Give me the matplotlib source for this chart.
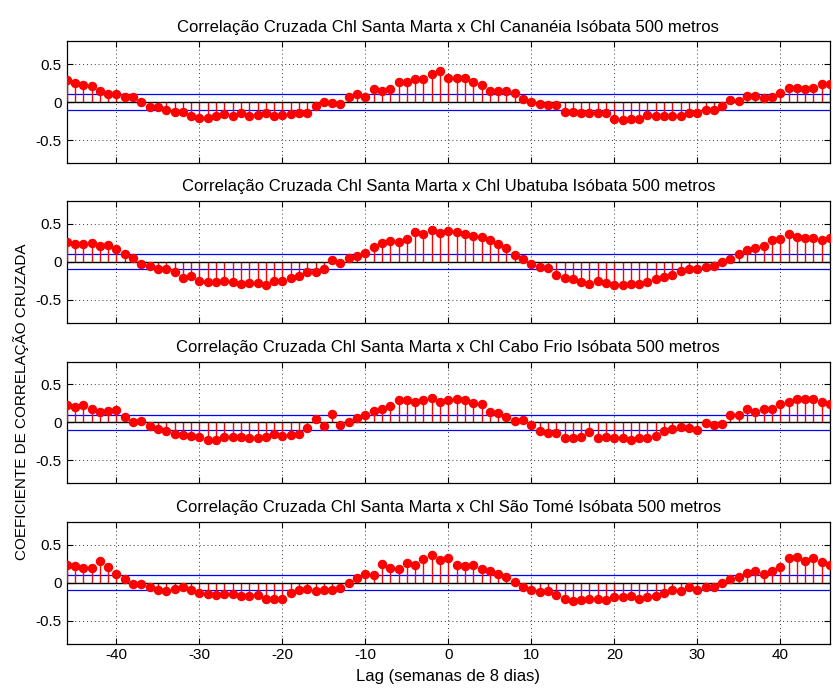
import numpy as np
import matplotlib
matplotlib.use("Agg")
import matplotlib.pyplot as plt

plt.rcParams['font.family'] = ['Liberation Sans', 'DejaVu Sans']
plt.rcParams['axes.unicode_minus'] = False

lags = list(range(-46, 47))

titles = [
    "Correlação Cruzada Chl Santa Marta x Chl Cananéia Isóbata 500 metros",
    "Correlação Cruzada Chl Santa Marta x Chl Ubatuba Isóbata 500 metros",
    "Correlação Cruzada Chl Santa Marta x Chl Cabo Frio Isóbata 500 metros",
    "Correlação Cruzada Chl Santa Marta x Chl São Tomé Isóbata 500 metros",
]

cananeia = [0.29, 0.25, 0.22, 0.21, 0.14, 0.11, 0.10, 0.06, 0.06, 0.00,
            -0.06, -0.07, -0.10, -0.13, -0.13, -0.19, -0.21, -0.21, -0.18, -0.16,
            -0.19, -0.15, -0.18, -0.17, -0.15, -0.18, -0.17, -0.16, -0.15, -0.14,
            -0.05, 0.00, -0.01, -0.02, 0.06, 0.11, 0.06, 0.17, 0.14, 0.17,
            0.26, 0.26, 0.30, 0.30, 0.37, 0.41,
            0.32,
            0.32, 0.32, 0.26, 0.23, 0.15, 0.14, 0.15, 0.12, 0.04, 0.00,
            -0.03, -0.04, -0.04, -0.13, -0.13, -0.15, -0.14, -0.15, -0.15, -0.22,
            -0.24, -0.22, -0.22, -0.17, -0.19, -0.19, -0.18, -0.18, -0.14, -0.15,
            -0.11, -0.10, -0.05, 0.03, 0.02, 0.08, 0.08, 0.05, 0.06, 0.12,
            0.18, 0.18, 0.17, 0.18, 0.24, 0.24]

ubatuba = [0.26, 0.23, 0.24, 0.25, 0.21, 0.22, 0.17, 0.10, 0.05, -0.03,
           -0.05, -0.09, -0.10, -0.14, -0.21, -0.19, -0.25, -0.27, -0.27, -0.26,
           -0.27, -0.29, -0.28, -0.28, -0.31, -0.26, -0.25, -0.22, -0.19, -0.13,
           -0.13, -0.09, 0.02, -0.02, 0.05, 0.08, 0.12, 0.19, 0.25, 0.27,
           0.26, 0.30, 0.39, 0.36, 0.42, 0.38,
           0.41,
           0.39, 0.37, 0.34, 0.33, 0.28, 0.23, 0.18, 0.09, 0.04, -0.03,
           -0.07, -0.08, -0.18, -0.22, -0.23, -0.27, -0.29, -0.25, -0.28, -0.31,
           -0.31, -0.29, -0.29, -0.27, -0.23, -0.20, -0.17, -0.12, -0.09, -0.09,
           -0.07, -0.06, 0.00, 0.04, 0.10, 0.15, 0.18, 0.21, 0.28, 0.30,
           0.36, 0.33, 0.31, 0.31, 0.29, 0.31]

cabo_frio = [0.23, 0.20, 0.23, 0.18, 0.14, 0.15, 0.16, 0.07, 0.00, 0.02,
             -0.05, -0.09, -0.12, -0.16, -0.17, -0.18, -0.19, -0.23, -0.23, -0.19,
             -0.19, -0.19, -0.21, -0.21, -0.20, -0.15, -0.18, -0.17, -0.15, -0.07,
             0.04, -0.05, 0.11, -0.04, 0.00, 0.06, 0.10, 0.15, 0.18, 0.21,
             0.29, 0.29, 0.27, 0.29, 0.32, 0.27,
             0.29,
             0.31, 0.29, 0.26, 0.24, 0.14, 0.12, 0.07, 0.02, 0.03, -0.04,
             -0.11, -0.14, -0.14, -0.21, -0.21, -0.19, -0.13, -0.21, -0.20, -0.21,
             -0.21, -0.23, -0.21, -0.21, -0.18, -0.11, -0.09, -0.06, -0.08, -0.10,
             -0.01, -0.03, -0.02, 0.09, 0.10, 0.17, 0.14, 0.17, 0.17, 0.24,
             0.27, 0.30, 0.30, 0.30, 0.27, 0.24]

sao_tome = [0.23, 0.22, 0.20, 0.20, 0.29, 0.21, 0.11, 0.05, -0.01, -0.02,
            -0.06, -0.09, -0.11, -0.08, -0.05, -0.09, -0.14, -0.15, -0.16, -0.15,
            -0.15, -0.17, -0.17, -0.16, -0.21, -0.22, -0.21, -0.14, -0.09, -0.08,
            -0.11, -0.10, -0.09, -0.07, 0.00, 0.06, 0.12, 0.10, 0.25, 0.20,
            0.18, 0.26, 0.24, 0.31, 0.36, 0.30,
            0.32,
            0.24, 0.22, 0.23, 0.18, 0.15, 0.12, 0.07, 0.01, -0.05, -0.10,
            -0.12, -0.11, -0.16, -0.21, -0.24, -0.23, -0.21, -0.22, -0.23, -0.19,
            -0.19, -0.17, -0.21, -0.19, -0.17, -0.14, -0.09, -0.11, -0.05, -0.10,
            -0.05, -0.05, 0.00, 0.05, 0.07, 0.13, 0.15, 0.12, 0.15, 0.21,
            0.32, 0.34, 0.29, 0.33, 0.27, 0.23]

series = [cananeia, ubatuba, cabo_frio, sao_tome]
conf_limit = 0.1
xticks = [-40, -30, -20, -10, 0, 10, 20, 30, 40]
yticks = [-0.5, 0, 0.5]

W, H = 833, 688
fig = plt.figure(figsize=(W / 100, H / 100), dpi=100)

left_px, right_px = 66.7, 830
tops = [41.3, 201.0, 361.5, 522.0]
height_px = 121.5

for i, (vals, title) in enumerate(zip(series, titles)):
    ax = fig.add_axes([left_px / W, 1 - (tops[i] + height_px) / H,
                       (right_px - left_px) / W, height_px / H])
    ax.set_xlim(-46, 46)
    ax.set_ylim(-0.8, 0.8)
    ax.set_xticks(xticks)
    ax.set_yticks(yticks)
    ax.set_yticklabels(['-0.5', '0', '0.5'])
    ax.grid(True, linestyle=(0, (1, 3)), color='black', linewidth=0.7, alpha=0.8)
    ax.set_axisbelow(True)
    ax.axhline(conf_limit, color='blue', linewidth=0.9, zorder=2)
    ax.axhline(-conf_limit, color='blue', linewidth=0.9, zorder=2)
    ml, sl, bl = ax.stem(lags, vals, linefmt='r-', markerfmt='ro', basefmt='k-')
    plt.setp(sl, linewidth=1.0, zorder=3)
    plt.setp(ml, markersize=5.8, zorder=4, markeredgecolor='red', markerfacecolor='red')
    plt.setp(bl, linewidth=1.0, color='black', zorder=3)
    ax.tick_params(direction='in', top=True, right=True, labelsize=11, length=4)
    if i < 3:
        ax.set_xticklabels([])
    for s in ax.spines.values():
        s.set_linewidth(0.9)
    ax.set_title(title, fontsize=12, pad=7)

fig.text(21 / W, 1 - 402 / H, "COEFICIENTE DE CORRELAÇÃO CRUZADA", rotation=90,
         ha='center', va='center', fontsize=11)
fig.text((left_px + right_px) / 2 / W, 1 - 676 / H, "Lag (semanas de 8 dias)",
         ha='center', va='center', fontsize=12)

fig.savefig("out.png", dpi=100, facecolor='white')
